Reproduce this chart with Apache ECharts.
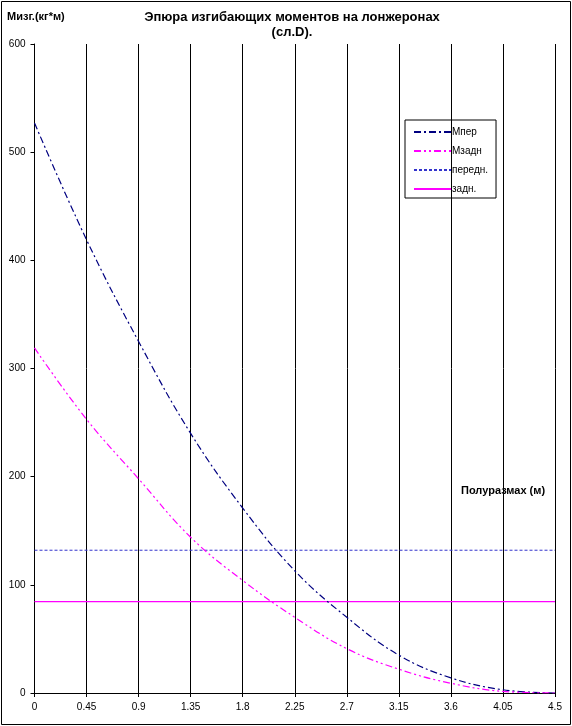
<!DOCTYPE html>
<html>
<head>
<meta charset="utf-8">
<script src="https://cdn.jsdelivr.net/npm/echarts@6/dist/echarts.min.js"></script>
<style>
  html, body { margin: 0; padding: 0; background: #fff; }
  #chart { width: 572px; height: 726px; }
</style>
</head>
<body>
<div id="chart"></div>
<script>
// span positions (m)
var spanX = [0, 0.45, 0.9, 1.35, 1.8, 2.25, 2.7, 3.15, 3.6, 4.05, 4.5];
// bending moments, kg*m
var mFront = [527, 419, 325, 240, 171, 113, 70, 35, 14, 3, 0];
var mRear = [319, 253, 198, 144, 104, 70, 41, 22, 9, 1.5, 0];
// constant reference levels
var frontLevel = [132, 132];
var rearLevel = [84.5, 84.5];
var levelX = [0, 4.5];

var seriesNames = ['Мпер', 'Мзадн', 'передн.', 'задн.'];

function pairs(xs, ys) {
  return xs.map(function (x, i) { return [x, ys[i]]; });
}

var chart = echarts.init(document.getElementById('chart'), null, { renderer: 'canvas' });

var font = 'Arial, "Liberation Sans", sans-serif';

var option = {
  backgroundColor: '#fff',
  animation: false,
  title: [
    {
      text: 'Эпюра изгибающих моментов на лонжеронах\n(сл.D).',
      left: 292, top: 10, textAlign: 'center', padding: 0,
      textStyle: { fontFamily: font, fontSize: 13, fontWeight: 'bold', color: '#000', lineHeight: 15 }
    },
    {
      text: 'Мизг.(кг*м)',
      left: 7, top: 11, padding: 0,
      textStyle: { fontFamily: font, fontSize: 11, fontWeight: 'bold', color: '#000' }
    },
    {
      text: 'Полуразмах (м)',
      left: 461, top: 485, padding: 0,
      textStyle: { fontFamily: font, fontSize: 11, fontWeight: 'bold', color: '#000' }
    }
  ],
  graphic: [{
    type: 'rect',
    shape: { x: 1.5, y: 1.5, width: 569, height: 723 },
    style: { fill: 'none', stroke: '#000', lineWidth: 1 },
    silent: true
  }],
  legend: {
    orient: 'vertical',
    left: 405, top: 120,
    data: seriesNames,
    borderColor: '#000', borderWidth: 1,
    padding: [7, 8, 4, 8],
    itemGap: 9, itemWidth: 37, itemHeight: 10,
    itemStyle: { color: 'rgba(0,0,0,0)', borderWidth: 0 },
    textStyle: { fontFamily: font, fontSize: 10, color: '#000', padding: [0, 0, 0, -4] }
  },
  grid: { left: 34.5, right: 17, top: 44, bottom: 33, containLabel: false },
  xAxis: {
    type: 'value', min: 0, max: 4.5, interval: 0.45,
    axisLine: { lineStyle: { color: '#000', width: 1 } },
    axisTick: { length: 4, lineStyle: { color: '#000' } },
    axisLabel: {
      color: '#000', fontFamily: font, fontSize: 10, margin: 9,
      formatter: function (v) { return String(+v.toFixed(2)); }
    },
    splitLine: { show: true, lineStyle: { color: '#000', width: 1 } }
  },
  yAxis: {
    type: 'value', min: 0, max: 600, interval: 100,
    axisLine: { show: true, lineStyle: { color: '#000', width: 1 } },
    axisTick: { show: true, length: 4, lineStyle: { color: '#000' } },
    axisLabel: { color: '#000', fontFamily: font, fontSize: 10, margin: 9 },
    splitLine: { show: false }
  },
  series: [
    {
      name: seriesNames[0], type: 'line', smooth: 0.4, showSymbol: false, symbol: 'none',
      data: pairs(spanX, mFront),
      lineStyle: { color: '#000080', width: 1.2, type: [7, 3, 2, 3] },
      itemStyle: { color: '#000080' }, z: 5
    },
    {
      name: seriesNames[1], type: 'line', smooth: 0.4, showSymbol: false, symbol: 'none',
      data: pairs(spanX, mRear),
      lineStyle: { color: '#FF00FF', width: 1.2, type: [7, 3, 2, 3, 2, 3] },
      itemStyle: { color: '#FF00FF' }, z: 5
    },
    {
      name: seriesNames[2], type: 'line', showSymbol: false, symbol: 'none',
      data: pairs(levelX, frontLevel),
      lineStyle: { color: '#3333CC', width: 1, type: [3, 2] },
      itemStyle: { color: '#3333CC' }, z: 4
    },
    {
      name: seriesNames[3], type: 'line', showSymbol: false, symbol: 'none',
      data: pairs(levelX, rearLevel),
      lineStyle: { color: '#FF00FF', width: 1.2, type: 'solid' },
      itemStyle: { color: '#FF00FF' }, z: 4
    }
  ]
};

chart.setOption(option);
</script>
</body>
</html>
